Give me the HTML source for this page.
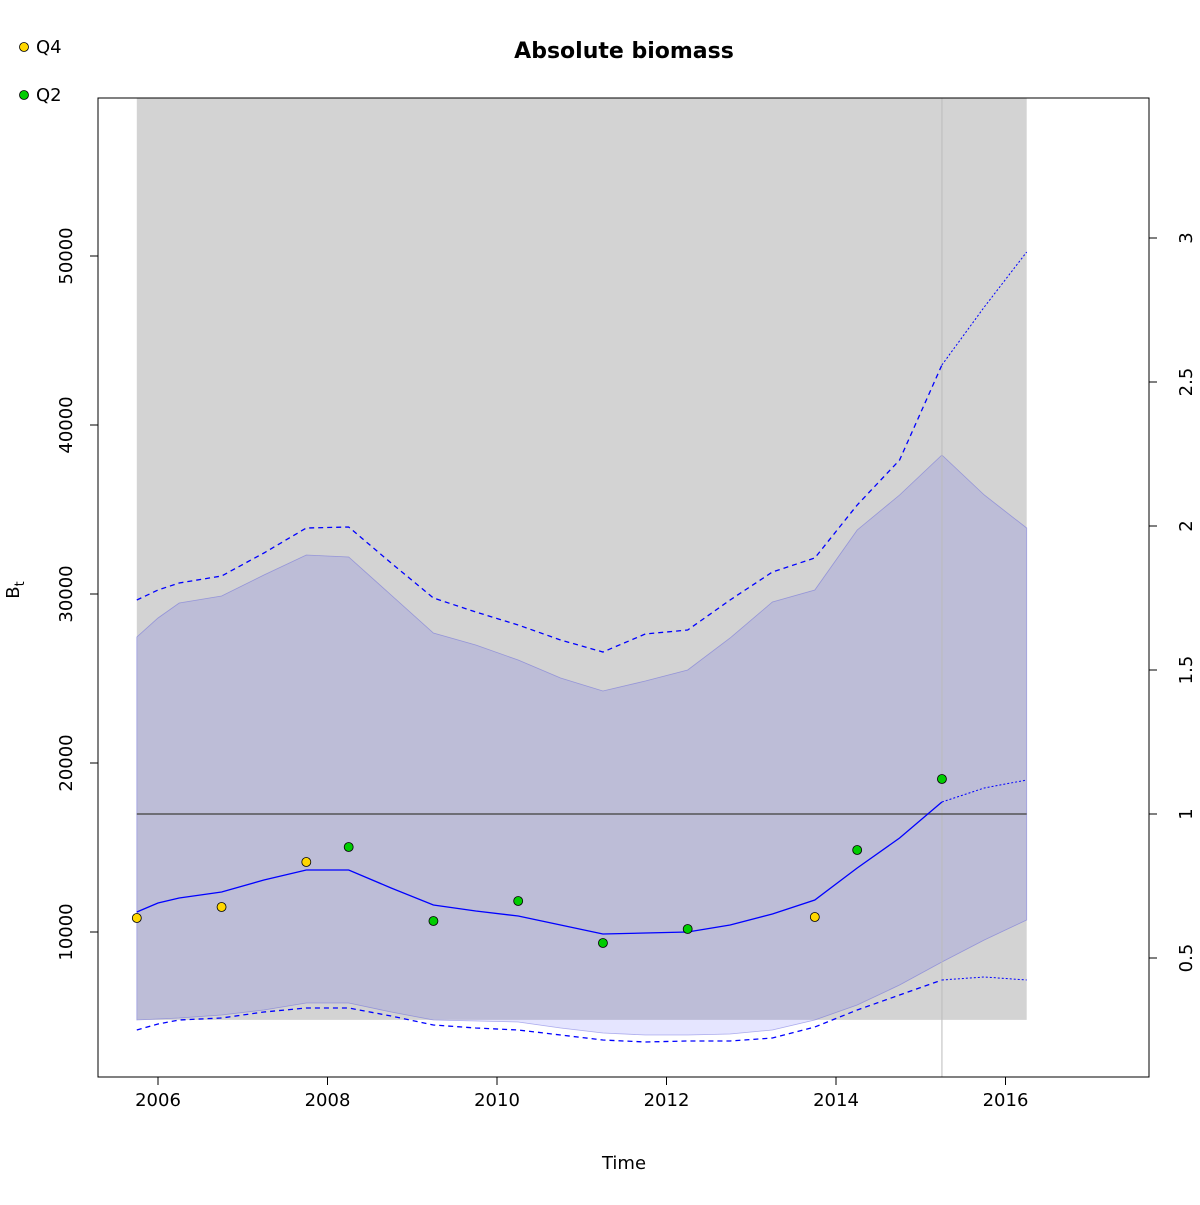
<!DOCTYPE html>
<html><head><meta charset="utf-8"><style>
body{margin:0;background:#fff}
text{font-family:"DejaVu Sans","Liberation Sans",sans-serif}
</style></head><body>
<svg id="chart" width="1200" height="1200" xmlns="http://www.w3.org/2000/svg">
<rect width="1200" height="1200" fill="#fff"/>
<g id="plot"></g>
<text x="624" y="58" text-anchor="middle" font-size="22" font-weight="bold">Absolute biomass</text>
<text x="624" y="1169" text-anchor="middle" font-size="18">Time</text>
<text transform="translate(19,590) rotate(-90)" text-anchor="middle" font-size="18">B<tspan font-size="13" dy="5">t</tspan></text>
<g>
<circle cx="24" cy="47" r="4.5" fill="#ffd700" stroke="#000" stroke-width="0.8"/>
<text x="36" y="53" font-size="18">Q4</text>
<circle cx="24" cy="95" r="4.5" fill="#00cd00" stroke="#000" stroke-width="0.8"/>
<text x="36" y="101" font-size="18">Q2</text>
</g>
</svg>
<script>
const times=[2005.75,2006,2006.25,2006.75,2007.25,2007.75,2008.25,2008.75,2009.25,2009.75,2010.25,2010.75,2011.25,2011.75,2012.25,2012.75,2013.25,2013.75,2014.25,2014.75,2015.25];
const median=[11183,11716,12012,12367,13077,13669,13669,12604,11598,11243,10947,10414,9882,9941,10000,10414,11065,11893,13787,15562,17692];
const upperCI=[29644,30236,30650,31064,32425,33904,33964,31834,29763,28934,28165,27278,26568,27633,27869,29644,31302,32130,35266,37928,43550];
const lowerCI=[4201,4556,4793,4911,5266,5503,5503,5030,4497,4320,4201,3905,3609,3491,3550,3550,3728,4379,5385,6272,7160];
const projTimes=[2015.25,2015.75,2016.25];
const projMedian=[17692,18520,18994];
const projUpper=[43550,46981,50236];
const projLower=[7160,7337,7160];
const bandTimes=times.concat([2015.75,2016.25]);
const bandUpper=[27455,28580,29467,29881,31124,32307,32189,29941,27692,26982,26094,25029,24260,24852,25503,27396,29526,30236,33786,35857,38224,35857,33905];
const bandLower=[4793,4852,4911,5089,5385,5799,5799,5266,4793,4734,4675,4320,4024,3905,3905,3965,4201,4793,5681,6864,8225,9527,10710];
const q4Times=[2005.75,2006.75,2007.75,2013.75];
const q4Values=[10828,11479,14142,10888];
const q2Times=[2008.25,2009.25,2010.25,2011.25,2012.25,2014.25,2015.25];
const q2Values=[15030,10651,11834,9349,10178,14852,19053];
const xTicks=[2006,2008,2010,2012,2014,2016];
const yTicks=[10000,20000,30000,40000,50000];
const rTicks=[0.5,1,1.5,2,2.5,3];
const bmsy=16980;
const grayBottom=4800, grayStart=2005.75, grayEnd=2016.25, nowLine=2015.25;

const X=t=>158+(t-2006)*84.75;
const Y=v=>932-(v-10000)*0.0169;
const R=r=>814-(r-1)*288;
const NS='http://www.w3.org/2000/svg';
const g=document.getElementById('plot');
function mk(tag,attrs,name){const e=document.createElementNS(NS,tag);for(const k in attrs)e.setAttribute(k,attrs[k]);


g.appendChild(e);return e;}
const pts=(ts,vs)=>ts.map((t,i)=>X(t).toFixed(1)+','+Y(vs[i]).toFixed(1)).join(' ');

mk('rect',{x:X(grayStart),y:98,width:X(grayEnd)-X(grayStart),height:Y(grayBottom)-98,fill:'#d3d3d3'},'gray-region');
const bandPts=pts(bandTimes,bandUpper)+' '+pts(bandTimes.slice().reverse(),bandLower.slice().reverse());
mk('polygon',{points:bandPts,fill:'rgba(0,0,255,0.1)',stroke:'rgba(100,100,220,0.5)','stroke-width':0.8},'ci-band');
mk('line',{x1:X(nowLine),x2:X(nowLine),y1:98,y2:1077,stroke:'#bbb','stroke-width':1},'current-time-line');
mk('line',{x1:X(grayStart),x2:X(grayEnd),y1:Y(bmsy),y2:Y(bmsy),stroke:'#555','stroke-width':1.5},'bmsy-line');
mk('polyline',{points:pts(times,upperCI),fill:'none',stroke:'#00f','stroke-width':1.3,'stroke-dasharray':'5,4'},'upper-ci-line');
mk('polyline',{points:pts(times,lowerCI),fill:'none',stroke:'#00f','stroke-width':1.3,'stroke-dasharray':'5,4'},'lower-ci-line');
mk('polyline',{points:pts(times,median),fill:'none',stroke:'#00f','stroke-width':1.3},'median-line');
mk('polyline',{points:pts(projTimes,projUpper),fill:'none',stroke:'#00f','stroke-width':1,'stroke-dasharray':'2,2'},'proj-upper-line');
mk('polyline',{points:pts(projTimes,projLower),fill:'none',stroke:'#00f','stroke-width':1,'stroke-dasharray':'2,2'},'proj-lower-line');
mk('polyline',{points:pts(projTimes,projMedian),fill:'none',stroke:'#00f','stroke-width':1,'stroke-dasharray':'2,2'},'proj-median-line');
q4Times.forEach((t,i)=>mk('circle',{cx:X(t),cy:Y(q4Values[i]),r:4.5,fill:'#ffd700',stroke:'#000','stroke-width':0.8},'q4-point'));
q2Times.forEach((t,i)=>mk('circle',{cx:X(t),cy:Y(q2Values[i]),r:4.5,fill:'#00cd00',stroke:'#000','stroke-width':0.8},'q2-point'));
mk('rect',{x:98,y:98,width:1051,height:979,fill:'none',stroke:'#000','stroke-width':1},'plot-frame');
xTicks.forEach(t=>{mk('line',{x1:X(t),x2:X(t),y1:1077,y2:1085,stroke:'#000'},'x-tick');
 const e=mk('text',{x:X(t),y:1106,'text-anchor':'middle','font-size':18},'x-tick-label');e.textContent=t;});
yTicks.forEach(v=>{mk('line',{x1:90,x2:98,y1:Y(v),y2:Y(v),stroke:'#000'},'y-tick');
 const e=mk('text',{transform:`translate(72,${Y(v)}) rotate(-90)`,'text-anchor':'middle','font-size':18},'y-tick-label');e.textContent=v;});
rTicks.forEach(r=>{mk('line',{x1:1149,x2:1157,y1:R(r),y2:R(r),stroke:'#000'},'right-tick');
 const e=mk('text',{transform:`translate(1192,${R(r)}) rotate(-90)`,'text-anchor':'middle','font-size':18},'right-tick-label');e.textContent=r;});
</script>
</body></html>
